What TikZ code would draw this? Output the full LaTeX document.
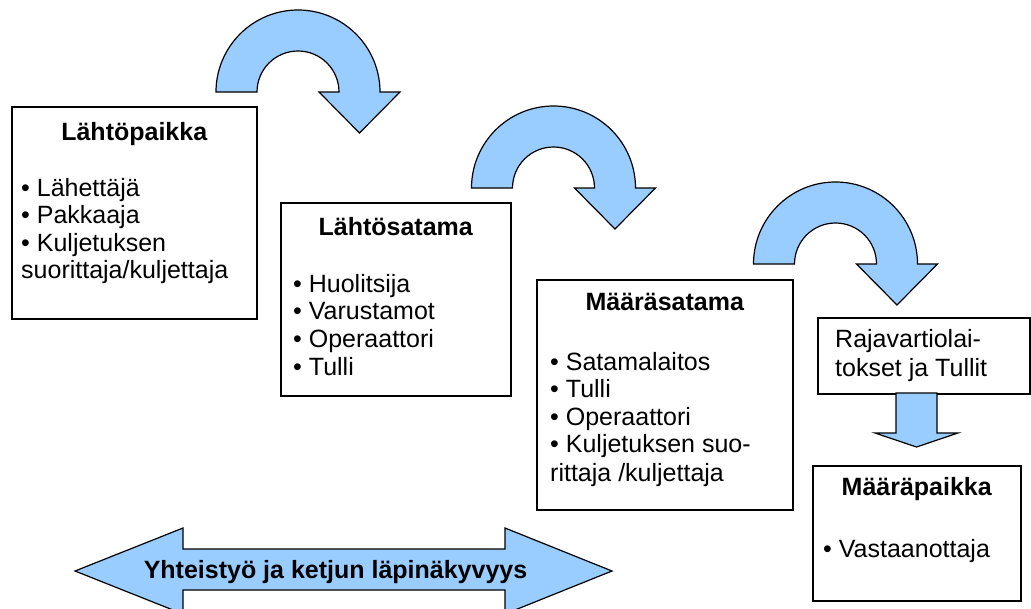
\documentclass[tikz,border=0pt]{standalone}
\usepackage{fontspec}
\setmainfont{Liberation Sans}
\definecolor{arrowblue}{RGB}{153,204,255}
\tikzset{
  x=1pt, y=1pt,
  box/.style={draw=black, line width=1.5pt},
  blockarrow/.style={draw=black, fill=arrowblue, line width=1.2pt, line join=miter},
  txt/.style={inner sep=0pt, anchor=base west, font=\fontsize{25}{28}\selectfont},
  title/.style={inner sep=0pt, anchor=base, font=\fontsize{25}{28}\selectfont\bfseries},
  uturn/.pic={
    \draw[blockarrow] (-82,0) arc[start angle=180, end angle=0, radius=82pt]
      -- (102,0) -- (61.5,-41) -- (21,0) -- (41,0)
      arc[start angle=0, end angle=180, radius=41pt] -- cycle;
  }
}
\begin{document}
\begin{tikzpicture}
\clip (0,0) rectangle (1031,-608);
\fill[white] (0,0) rectangle (1031,-608);

% curved hand-over arrows between the stages
\pic at (298,-92) {uturn};
\pic at (553.5,-188) {uturn};
\pic at (835.5,-264) {uturn};

% Lähtöpaikka
\node[box, minimum width=245pt, minimum height=212pt, anchor=north west] (lp) at (11,-106) {};
\node[title] (lpt) at (lp.north |- 0,-140) {Lähtöpaikka};
\node[txt] (lp1) at (21,-196) {• Lähettäjä};
\node[txt] (lp2) at (21,-223.5) {• Pakkaaja};
\node[txt] (lp3) at (21,-251) {• Kuljetuksen};
\node[txt] (lp4) at (21,-278.5) {suorittaja/kuljettaja};

% Lähtösatama
\node[box, minimum width=230pt, minimum height=193pt, anchor=north west] (ls) at (280,-202) {};
\node[title] (lst) at (ls.north |- 0,-235) {Lähtösatama};
\node[txt] (ls1) at (293,-292) {• Huolitsija};
\node[txt] (ls2) at (293,-319.5) {• Varustamot};
\node[txt] (ls3) at (293,-347) {• Operaattori};
\node[txt] (ls4) at (293,-375) {• Tulli};

% Määräsatama
\node[box, minimum width=256pt, minimum height=230pt, anchor=north west] (ms) at (536,-279) {};
\node[title] (mst) at (ms.north |- 0,-310) {Määräsatama};
\node[txt] (ms1) at (550,-370) {• Satamalaitos};
\node[txt] (ms2) at (550,-397.5) {• Tulli};
\node[txt] (ms3) at (550,-425) {• Operaattori};
\node[txt] (ms4) at (550,-452.5) {• Kuljetuksen suo-};
\node[txt] (ms5) at (550,-481) {rittaja /kuljettaja};

% Rajavartiolaitokset ja Tullit
\node[box, minimum width=212pt, minimum height=76pt, anchor=north west] (rt) at (817,-317) {};
\node[txt] (rt1) at (835,-347) {Rajavartiolai-};
\node[txt] (rt2) at (835,-376) {tokset ja Tullit};

% downward arrow
\draw[blockarrow] (896,-393) -- (937,-393) -- (937,-433) -- (958,-433)
  -- (916.5,-447) -- (875,-433) -- (896,-433) -- cycle;

% Määräpaikka
\node[box, minimum width=208pt, minimum height=135pt, anchor=north west] (mp) at (812,-465) {};
\node[title] (mpt) at (mp.north |- 0,-495) {Määräpaikka};
\node[txt] (mp1) at (823,-557) {• Vastaanottaja};

% double arrow
\draw[blockarrow] (75,-571) -- (183,-528) -- (183,-549) -- (505,-549) -- (505,-528)
  -- (612,-571) -- (505,-614) -- (505,-590) -- (183,-590) -- (183,-614) -- cycle;
\node[title] (coop) at (335.5,-578) {Yhteistyö ja ketjun läpinäkyvyys};
\end{tikzpicture}
\end{document}
